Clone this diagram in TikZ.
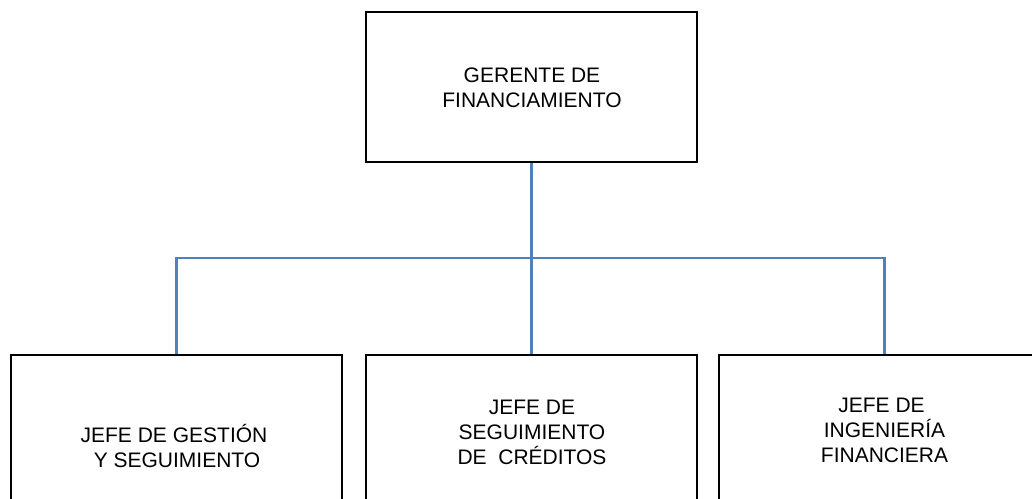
\documentclass[tikz,border=0pt]{standalone}
\usepackage{fontspec}
\setmainfont{Liberation Sans}
\definecolor{conn}{RGB}{79,129,189}
\tikzset{
  orgbox/.style={draw=black, line width=2pt, rectangle, inner sep=0pt, minimum width=331pt},
  orgtext/.style={align=center, anchor=base, inner sep=0pt, font=\fontsize{21}{25}\selectfont},
  link/.style={draw=conn, line width=2.2pt}
}
\begin{document}
\begin{tikzpicture}[x=1pt,y=1pt]
\useasboundingbox (0,0) rectangle (1032,498);
\clip (0,0) rectangle (1032,498);
\fill[white] (0,0) rectangle (1032,498);
% boxes
\node[orgbox, minimum height=150pt] (top) at (531.5,411) {};
\node[orgbox, minimum height=220pt, anchor=north] (left) at (176.5,144) {};
\node[orgbox, minimum height=220pt, anchor=north] (mid) at (531.5,144) {};
\node[orgbox, minimum height=220pt, anchor=north] (right) at (884.5,144) {};
% texts
\node[orgtext] (ttop) at (532,390) {GERENTE DE\\FINANCIAMIENTO};
\node[orgtext] (tleft) at (174,31) {JEFE DE GESTIÓN\\\kern6pt Y SEGUIMIENTO};
\node[orgtext] (tmid) at (532,34) {JEFE DE\\SEGUIMIENTO\\DE\ \ CRÉDITOS};
\node[orgtext] (tright) at (884.5,36) {JEFE DE\kern6pt\\INGENIERÍA\\FINANCIERA};
% connectors
\coordinate (bus) at (531.5,240);
\draw[link] (top.south) -- (bus);
\draw[link] (left.north) -- (left.north |- bus) -- (right.north |- bus) -- (right.north);
\draw[link] (bus) -- (mid.north);
\end{tikzpicture}
\end{document}
